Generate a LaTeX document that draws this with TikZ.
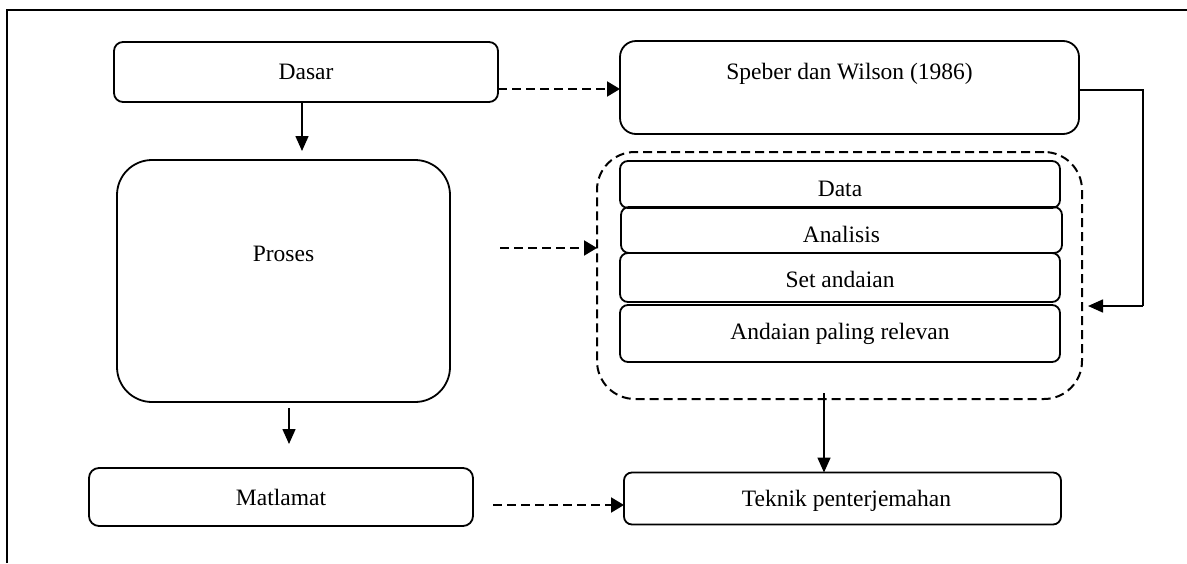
\documentclass[tikz,border=0pt]{standalone}
\usepackage{fontspec}
\setmainfont{Liberation Serif}
\usetikzlibrary{arrows.meta}
\begin{document}
\begin{tikzpicture}[x=1pt,y=-1pt,
  every node/.style={font=\fontsize{23.5}{28}\selectfont},
  bx/.style={draw,line width=1.8pt,inner sep=0pt,outer sep=0pt,rounded corners=#1},
  bx/.default=9pt,
  grp/.style={draw,line width=2pt,dash pattern=on 9pt off 5pt,inner sep=0pt,outer sep=0pt,rounded corners=38pt},
  arr/.style={line width=1.6pt,-{Triangle[length=15pt,width=13pt]}},
  darr/.style={line width=2pt,dash pattern=on 9pt off 5pt,-{Triangle[length=13pt,width=15pt]}},
  lbl/.style={inner sep=0pt}
]
\useasboundingbox (0,0) rectangle (1187,563);
% frame
\draw[line width=1.4pt] (7,563) -- (7,10) -- (1187,10);

% boxes
\node[bx, minimum width=384pt, minimum height=60pt] (dasar) at (306,72) {Dasar};
\node[bx=16pt, minimum width=459pt, minimum height=93pt,
      label={[lbl,yshift=13.5pt]center:Speber dan Wilson (1986)}] (speber) at (849.5,87.5) {};
\node[bx=35pt, minimum width=333pt, minimum height=242pt,
      label={[lbl,yshift=27pt]center:Proses}] (proses) at (283.5,281) {};
\node[grp, minimum width=485pt, minimum height=247pt] (grp) at (839.5,275.5) {};
\node[bx=8pt, minimum width=440pt, minimum height=47pt,
      label={[lbl,yshift=-4pt]center:Data}] (data) at (840,184.5) {};
\node[bx=8pt, minimum width=441pt, minimum height=46pt,
      label={[lbl,yshift=-4pt]center:Analisis}] (analisis) at (841.5,230) {};
\node[bx=8pt, minimum width=440pt, minimum height=49pt,
      label={[lbl,yshift=-2pt]center:Set andaian}] (set) at (840,277.5) {};
\node[bx=8pt, minimum width=440pt, minimum height=57pt] (andaian) at (840,333.5) {Andaian paling relevan};
\node[bx=10pt, minimum width=384pt, minimum height=58pt] (matlamat) at (281,497) {Matlamat};
\node[bx=8pt, minimum width=437pt, minimum height=52pt,
      label={[lbl,xshift=4pt,yshift=-2pt]center:Teknik penterjemahan}] (teknik) at (842.5,498.5) {};

% connector end points
\coordinate (a1) at (302,151);
\coordinate (a2s) at (289,408);
\coordinate (a2e) at (289,444);
\coordinate (d1) at (498,89);
\coordinate (d2) at (500,248);
\coordinate (d3) at (493,505);
\coordinate (e1) at (1143,90);
\coordinate (e2) at (1143,306);
\coordinate (e3) at (1088,306);
\coordinate (g1) at (824,393);

% connectors
\draw[arr] (dasar.south -| a1) -- (a1);
\draw[arr] (a2s) -- (a2e);
\draw[darr] (d1) -- (d1 -| speber.west);
\draw[darr] (d2) -- (d2 -| grp.west);
\draw[darr] (d3) -- (d3 -| teknik.west);
\draw[line width=1.6pt] (e1 -| speber.east) -- (e1) -- (e2);
\draw[arr] (e2) -- (e3);
\draw[arr] (g1) -- (g1 |- teknik.north);
\end{tikzpicture}
\end{document}
